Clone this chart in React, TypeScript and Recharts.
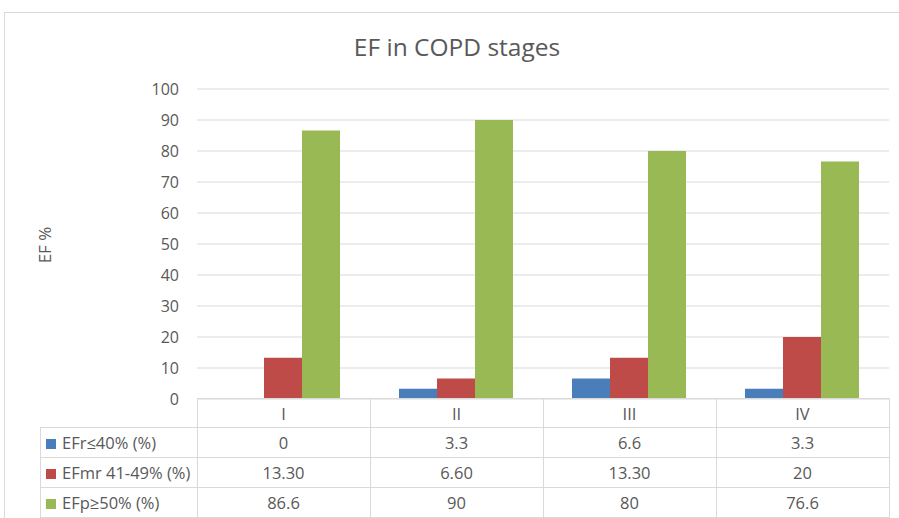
import React from 'react';
import { BarChart, Bar, XAxis, YAxis, CartesianGrid } from 'recharts';

const stages = ['I', 'II', 'III', 'IV'];
const efReduced = [0, 3.3, 6.6, 3.3];
const efMildly = [13.3, 6.6, 13.3, 20];
const efPreserved = [86.6, 90, 80, 76.6];
const efMildlyLabels = ['13.30', '6.60', '13.30', '20'];
const yTicks = [0, 10, 20, 30, 40, 50, 60, 70, 80, 90, 100];

const seriesInfo = [
  { key: 'efr', name: 'EFr≤40% (%)', color: '#4A7EBB', values: efReduced.map(String) },
  { key: 'efmr', name: 'EFmr 41-49% (%)', color: '#BE4B48', values: efMildlyLabels },
  { key: 'efp', name: 'EFp≥50% (%)', color: '#98B954', values: efPreserved.map(String) },
];

const FONT = '"Open Sans", "Segoe UI", sans-serif';
const TEXT = '#595959';
const LINE = '#D9D9D9';

const chartData = stages.map((s, i) => ({
  stage: s,
  efr: efReduced[i],
  efmr: efMildly[i],
  efp: efPreserved[i],
}));

export default function App() {
  const cell: React.CSSProperties = {
    border: `1px solid ${LINE}`,
    textAlign: 'center',
    padding: 0,
    width: 172,
  };
  const rowStyle = (h: number): React.CSSProperties => ({ height: h });

  return (
    <div style={{ position: 'absolute', left: 0, top: 0, width: 899, height: 518, background: '#fff', fontFamily: FONT, color: TEXT, overflow: 'hidden' }}>
      {/* chart frame */}
      <div style={{ position: 'absolute', left: 4, top: 12, width: 900, height: 520, border: `1px solid ${LINE}`, boxSizing: 'border-box' }} />
      <div style={{ position: 'absolute', left: 0, width: 914, top: 29, textAlign: 'center', fontSize: 24.5, lineHeight: '36px' }}>
        EF in COPD stages
      </div>
      <div style={{ position: 'absolute', left: 44, top: 245, transform: 'translate(-50%, -50%) rotate(-90deg)', fontSize: 17, whiteSpace: 'nowrap' }}>
        EF %
      </div>
      <div style={{ position: 'absolute', left: 0, top: 0 }}>
        <BarChart
          width={899}
          height={518}
          data={chartData}
          margin={{ top: 89, right: 10, left: 0, bottom: 119 }}
          barCategoryGap={29}
          barGap={0}
        >
          <CartesianGrid vertical={false} stroke={LINE} strokeWidth={1} />
          <XAxis dataKey="stage" hide />
          <YAxis
            width={197}
            domain={[0, 100]}
            ticks={yTicks}
            interval={0}
            axisLine={false}
            tickLine={false}
            tickSize={0}
            tickMargin={18}
            tick={{ fill: TEXT, fontSize: 16, fontFamily: FONT }}
          />
          {seriesInfo.map((s) => (
            <Bar key={s.key} dataKey={s.key} name={s.name} fill={s.color} isAnimationActive={false} />
          ))}
        </BarChart>
      </div>
      <table
        style={{
          position: 'absolute',
          left: 40,
          top: 398,
          borderCollapse: 'collapse',
          fontSize: 16.5,
          fontFamily: FONT,
          color: TEXT,
          tableLayout: 'fixed',
        }}
      >
        <tbody>
          <tr style={rowStyle(29)}>
            <td style={{ width: 156, padding: 0, border: 'none' }} />
            {stages.map((s) => (
              <td key={s} style={cell}>{s}</td>
            ))}
          </tr>
          {seriesInfo.map((s) => (
            <tr key={s.key} style={rowStyle(30)}>
              <td style={{ border: `1px solid ${LINE}`, padding: '0 0 0 5px', whiteSpace: 'nowrap' }}>
                <span style={{ display: 'inline-block', width: 10, height: 10, background: s.color, marginRight: 6 }} />
                {s.name}
              </td>
              {s.values.map((v, i) => (
                <td key={i} style={cell}>{v}</td>
              ))}
            </tr>
          ))}
        </tbody>
      </table>
    </div>
  );
}
